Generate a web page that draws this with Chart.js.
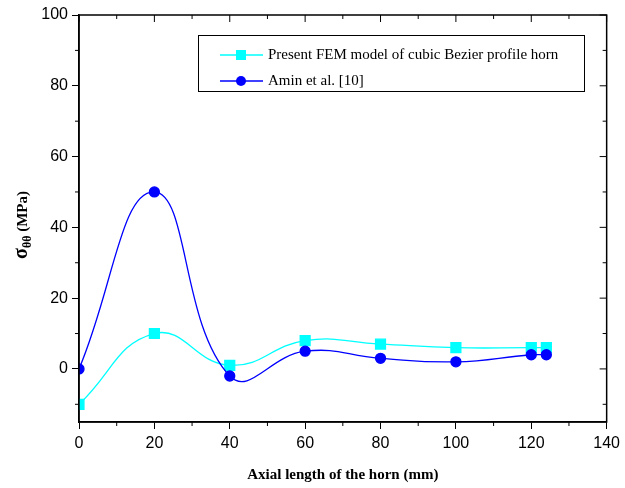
<!DOCTYPE html>
<html lang="en">
<head>
    <meta charset="UTF-8">
    <title>Hoop stress along the horn</title>
    <script src="https://cdn.jsdelivr.net/npm/chart.js@4.4.1/dist/chart.umd.min.js"></script>
    <style>
        body { margin: 0; background: #fff; }
        #wrap { width: 625px; height: 488px; }
    </style>
</head>
<body>
    <div id="wrap"><canvas id="stressChart" width="625" height="488"></canvas></div>

    <script>
        // values
        const axialLength = [0, 20, 40, 60, 80, 100, 120, 124];
        const femStress = [-10, 10, 1, 8, 7, 6, 6, 6];
        const aminStress = [0, 50, -2, 5, 3, 2, 4, 4];
        const xTicks = [0, 20, 40, 60, 80, 100, 120, 140];
        const yTicks = [0, 20, 40, 60, 80, 100];

        const femLabel = 'Present FEM model of cubic Bezier profile horn';
        const aminLabel = 'Amin et al. [10]';

        const toPoints = (xs, ys) => xs.map((x, i) => ({ x: x, y: ys[i] }));

        // box frame, minor ticks, y title with subscript, and the boxed legend
        const framePlugin = {
            id: 'frame',
            afterDraw(chart) {
                const ctx = chart.ctx;
                const a = chart.chartArea;
                const xs = chart.scales.x, ys = chart.scales.y;
                ctx.save();
                ctx.strokeStyle = '#000';
                ctx.lineWidth = 1.5;
                ctx.strokeRect(a.left, a.top, a.right - a.left, a.bottom - a.top);

                ctx.lineWidth = 1;
                ctx.beginPath();
                // minor ticks on x (outside bottom, inside top)
                for (let v = 10; v < 140; v += 20) {
                    const px = xs.getPixelForValue(v);
                    ctx.moveTo(px, a.bottom); ctx.lineTo(px, a.bottom + 4);
                    ctx.moveTo(px, a.top); ctx.lineTo(px, a.top + 4);
                }
                // major ticks on top and right (inside)
                xTicks.forEach(v => {
                    const px = xs.getPixelForValue(v);
                    ctx.moveTo(px, a.top); ctx.lineTo(px, a.top + 7);
                });
                for (let v = -10; v < 100; v += 20) {
                    const py = ys.getPixelForValue(v);
                    ctx.moveTo(a.left, py); ctx.lineTo(a.left - 4, py);
                    ctx.moveTo(a.right, py); ctx.lineTo(a.right - 4, py);
                }
                yTicks.forEach(v => {
                    const py = ys.getPixelForValue(v);
                    ctx.moveTo(a.right, py); ctx.lineTo(a.right - 7, py);
                });
                ctx.stroke();

                // y axis title: sigma with theta-theta subscript
                ctx.translate(21, 225);
                ctx.rotate(-Math.PI / 2);
                ctx.fillStyle = '#000';
                ctx.textBaseline = 'alphabetic';
                const sig = '\u03c3';
                const sub = '\u03b8\u03b8';
                const rest = ' (MPa)';
                ctx.font = 'bold 20px "Liberation Serif"';
                const wSig = ctx.measureText(sig).width;
                ctx.font = 'bold 12px "Liberation Serif"';
                const wSub = ctx.measureText(sub).width;
                ctx.font = 'bold 15px "Liberation Serif"';
                const wRest = ctx.measureText(rest).width;
                let x0 = -(wSig + wSub + wRest) / 2;
                ctx.font = 'bold 20px "Liberation Serif"';
                ctx.fillText(sig, x0, 6);
                ctx.font = 'bold 12px "Liberation Serif"';
                ctx.fillText(sub, x0 + wSig, 10);
                ctx.font = 'bold 15px "Liberation Serif"';
                ctx.fillText(rest, x0 + wSig + wSub, 6);
                ctx.restore();

                // legend box
                ctx.save();
                ctx.strokeStyle = '#000';
                ctx.lineWidth = 1;
                ctx.strokeRect(198.5, 35.5, 386, 56);
                ctx.font = '15px "Liberation Serif"';
                ctx.textBaseline = 'middle';
                ctx.fillStyle = '#000';
                chart.data.datasets.forEach((ds, i) => {
                    const y = 55 + i * 26;
                    ctx.strokeStyle = ds.borderColor;
                    ctx.lineWidth = 1.3;
                    ctx.beginPath();
                    ctx.moveTo(220, y); ctx.lineTo(263, y);
                    ctx.stroke();
                    ctx.fillStyle = ds.pointBackgroundColor;
                    if (ds.pointStyle === 'rect') {
                        ctx.fillRect(236, y - 5, 10, 10);
                    } else {
                        ctx.beginPath();
                        ctx.arc(241, y, 5, 0, Math.PI * 2);
                        ctx.fill();
                    }
                    ctx.fillStyle = '#000';
                    ctx.fillText(ds.label, 268, y);
                });
                ctx.restore();
            }
        };

        const stressChart = new Chart(document.getElementById('stressChart').getContext('2d'), {
            type: 'line',
            data: {
                datasets: [{
                    label: femLabel,
                    data: toPoints(axialLength, femStress),
                    borderColor: '#00ffff',
                    pointBackgroundColor: '#00ffff',
                    pointBorderColor: '#00ffff',
                    pointStyle: 'rect',
                    pointRadius: 7,
                    borderWidth: 1.3,
                    tension: 0.45,
                    order: 2
                }, {
                    label: aminLabel,
                    data: toPoints(axialLength, aminStress),
                    borderColor: '#0000ff',
                    pointBackgroundColor: '#0000ff',
                    pointBorderColor: '#0000ff',
                    pointStyle: 'circle',
                    pointRadius: 5,
                    borderWidth: 1.3,
                    tension: 0.45,
                    order: 1
                }]
            },
            options: {
                responsive: false,
                animation: false,
                layout: { padding: { top: 15, right: 17 } },
                plugins: {
                    legend: { display: false },
                    tooltip: { enabled: false }
                },
                scales: {
                    x: {
                        type: 'linear',
                        min: 0,
                        max: 140,
                        afterBuildTicks: s => { s.ticks = xTicks.map(v => ({ value: v })); },
                        afterFit: s => { s.height = 66; },
                        grid: { drawOnChartArea: false, tickLength: 7, color: '#000', lineWidth: 1 },
                        border: { color: '#000', width: 1.5 },
                        ticks: {
                            color: '#000',
                            padding: 5,
                            maxRotation: 0,
                            font: { family: '"Liberation Sans", Arial', size: 16 }
                        },
                        title: {
                            display: true,
                            text: 'Axial length of the horn (mm)',
                            color: '#000',
                            padding: { top: 8 },
                            font: { family: '"Liberation Serif"', size: 15, weight: 'bold' }
                        }
                    },
                    y: {
                        min: -15,
                        max: 100,
                        afterBuildTicks: s => { s.ticks = yTicks.map(v => ({ value: v })); },
                        afterFit: s => { s.width = 79; },
                        grid: { drawOnChartArea: false, tickLength: 7, color: '#000', lineWidth: 1 },
                        border: { color: '#000', width: 1.5 },
                        ticks: {
                            color: '#000',
                            padding: 4,
                            font: { family: '"Liberation Sans", Arial', size: 16 }
                        }
                    }
                }
            },
            plugins: [framePlugin]
        });
    </script>
</body>
</html>
